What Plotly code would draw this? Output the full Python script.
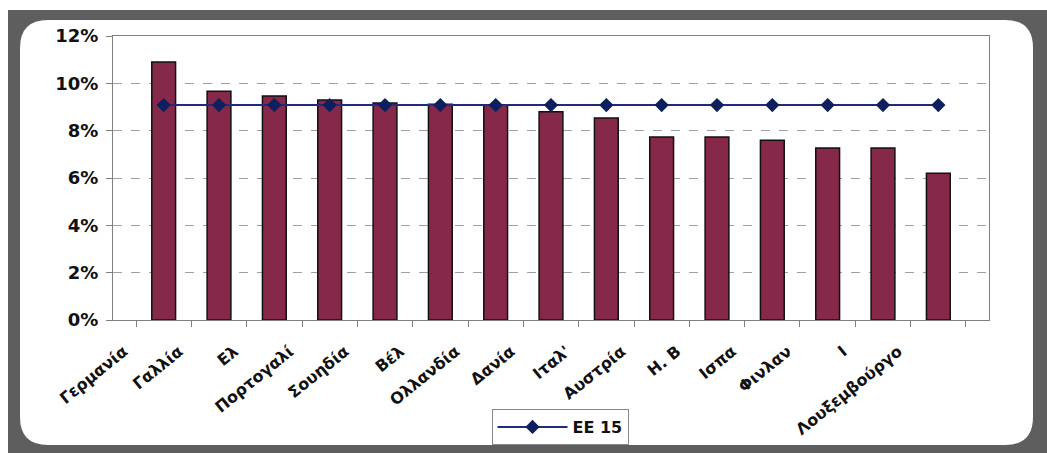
import plotly.graph_objects as go

categories = ["Γερμανία", "Γαλλία", "Ελ", "Πορτογαλί", "Σουηδία", "Βέλ", "Ολλανδία",
              "Δανία", "Ιταλ'", "Αυστρία", "Η. Β", "Ισπα", "Φινλαν", "Ι", "Λουξεμβούργο"]
bar_values = [0.109, 0.0967, 0.0946, 0.093, 0.0917, 0.0912, 0.091,
              0.088, 0.0853, 0.0773, 0.0773, 0.076, 0.0727, 0.0727, 0.062]
ee15_values = [0.0908] * 15

W, H = 1047, 453
L, R, T, B = 113, 58, 36, 133
pw, ph = W - L - R, H - T - B

def px(x):
    return (x - L) / pw

def py(y):
    return (H - B - y) / ph

def rrect(x0, y0, x1, y1, r):
    return (f"M {px(x0 + r)},{py(y0)} L {px(x1 - r)},{py(y0)} Q {px(x1)},{py(y0)} {px(x1)},{py(y0 + r)} "
            f"L {px(x1)},{py(y1 - r)} Q {px(x1)},{py(y1)} {px(x1 - r)},{py(y1)} "
            f"L {px(x0 + r)},{py(y1)} Q {px(x0)},{py(y1)} {px(x0)},{py(y1 - r)} "
            f"L {px(x0)},{py(y0 + r)} Q {px(x0)},{py(y0)} {px(x0 + r)},{py(y0)} Z")

fig = go.Figure()
fig.add_trace(go.Bar(x=categories, y=bar_values, marker=dict(color="#86284a", line=dict(color="#111111", width=1.5)),
                     width=0.43, showlegend=False, name=""))
fig.add_trace(go.Scatter(x=categories, y=ee15_values, mode="lines+markers", name="EE 15",
                         line=dict(color="#1f2a80", width=2),
                         marker=dict(symbol="diamond", size=11, color="#0d1f5c")))

shapes = [
    dict(type="rect", xref="paper", yref="paper", x0=px(8), x1=px(W + 5), y0=py(10), y1=py(H + 5),
         fillcolor="#5e5e5e", line=dict(width=0), layer="below"),
    dict(type="path", xref="paper", yref="paper", path=rrect(20, 20, 1033, 445, 28),
         fillcolor="white", line=dict(width=0), layer="below"),
]

fig.update_layout(
    width=W, height=H, margin=dict(l=L, r=R, t=T, b=B, autoexpand=False),
    paper_bgcolor="white", plot_bgcolor="rgba(0,0,0,0)",
    shapes=shapes,
    font=dict(family="DejaVu Sans", color="#111111"),
    legend=dict(x=px(560), y=py(409), xanchor="center", yanchor="top",
                bgcolor="white", bordercolor="#888888", borderwidth=1, itemwidth=70,
                font=dict(size=16, family="DejaVu Sans", weight="bold")),
    showlegend=True,
)
fig.update_yaxes(range=[0, 0.12], dtick=0.02, tickformat=".0%", automargin=False,
                 showgrid=True, gridcolor="#a0a0a0", griddash="dash", gridwidth=1,
                 showline=True, linecolor="#808080", linewidth=1, mirror=True,
                 ticks="outside", ticklen=6, tickcolor="#808080", ticklabelstandoff=4,
                 tickfont=dict(size=18, family="DejaVu Sans", weight="bold"), zeroline=False)
fig.update_xaxes(showline=True, linecolor="#808080", linewidth=1, mirror=True, automargin=False,
                 ticks="outside", ticklen=6, tickcolor="#808080", tickson="boundaries",
                 tickangle=-39, tickfont=dict(size=16, family="DejaVu Sans", weight="bold"),
                 ticklabelstandoff=15, ticklabelshift=-40,
                 showgrid=False)

fig.write_html("out.html")
